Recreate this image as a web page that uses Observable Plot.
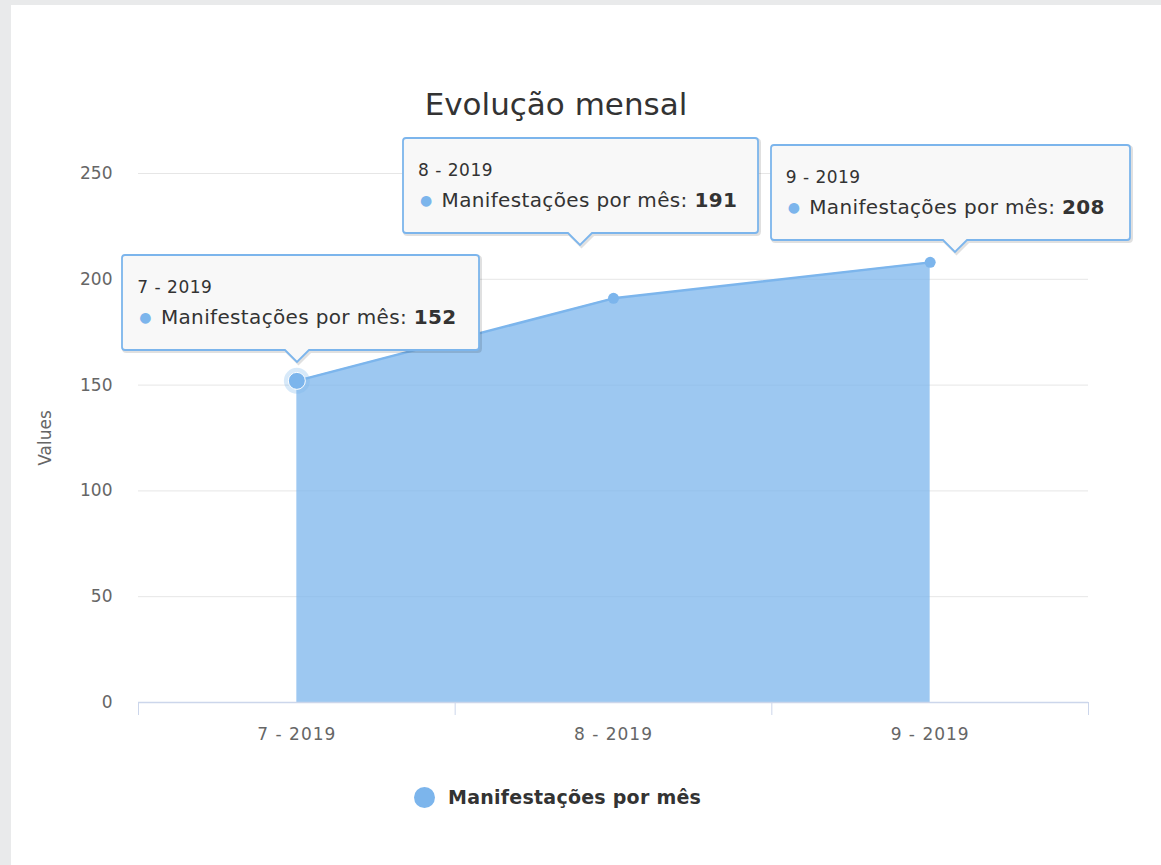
<!DOCTYPE html>
<html>
<head>
<meta charset="utf-8">
<script src="https://cdn.jsdelivr.net/npm/d3@7"></script>
<script src="https://cdn.jsdelivr.net/npm/@observablehq/plot@0.6"></script>
<style>
  html, body { margin: 0; padding: 0; }
  body { width: 1161px; height: 865px; background: #e9eaeb; position: relative; overflow: hidden; font-family: "DejaVu Sans", sans-serif; }
  #panel { position: absolute; left: 11px; top: 5px; width: 1150px; height: 860px; background: #fff; }
  #chart { position: absolute; left: 0; top: 0; }
  #chart svg g[aria-label="x-axis tick label"] text { letter-spacing: 1px; }
  #title { position: absolute; left: 0; width: 1112px; top: 86px; text-align: center; font-size: 31px; line-height: 36px; color: #333; }
  .tip { position: absolute; color: #333; }
  .tip svg { position: absolute; left: 0; top: 0; overflow: visible; }
  .tip .l1 { position: absolute; font-size: 17px; line-height: 20px; letter-spacing: 0.5px; white-space: nowrap; }
  .tip .l2 { position: absolute; font-size: 20px; line-height: 24px; letter-spacing: 0.35px; white-space: nowrap; }
  .tip .l2 .dot { color: #7cb5ec; font-size: 14px; position: relative; top: -2px; margin-right: 9px; }
  #legend { position: absolute; left: 414px; top: 786px; display: flex; align-items: center; }
  #legend .sym { width: 21px; height: 21px; border-radius: 50%; background: #7cb5ec; margin-right: 13px; }
  #legend .txt { font-size: 19px; font-weight: bold; letter-spacing: 0.25px; color: #333; white-space: nowrap; }
</style>
</head>
<body>
<div id="panel"></div>
<div id="chart"></div>
<div id="title"></div>
<div id="legend"></div>
<script>
// ---- data ----
const title = "Evolução mensal";
const seriesName = "Manifestações por mês";
const yLabel = "Values";
const months = ["7 - 2019", "8 - 2019", "9 - 2019"];
const values = [152, 191, 208];
const yTicks = [0, 50, 100, 150, 200, 250];

// ---- tooltip layout (offsets relative to each point, in pixels) ----
const tipLayout = [
  { boxDx: -174, tipDx: 1,   tipDy: -18, width: 357 },
  { boxDx: -210, tipDx: -33, tipDy: -53, width: 355 },
  { boxDx: -159, tipDx: 25,  tipDy: -10, width: 359 }
];

const data = months.map((m, i) => ({ i, month: m, value: values[i] }));
const color = "#7cb5ec";

const chart = Plot.plot({
  width: 1161,
  height: 865,
  marginLeft: 138,
  marginRight: 73,
  marginTop: 173,
  marginBottom: 163,
  style: { background: "transparent", fontFamily: "DejaVu Sans, sans-serif", fontSize: "17px", color: "#666", overflow: "visible" },
  x: { domain: [-0.5, 2.5], label: null },
  y: { domain: [0, 250], label: null },
  marks: [
    Plot.gridY(yTicks, { stroke: "#e6e6e6", strokeOpacity: 1 }),
    Plot.areaY(data, { x: "i", y: "value", fill: color, fillOpacity: 0.75 }),
    Plot.lineY(data, { x: "i", y: "value", stroke: color, strokeWidth: 2.5 }),
    Plot.ruleY([0], { stroke: "#ccd6eb", strokeWidth: 1.5 }),
    Plot.axisX([-0.5, 0.5, 1.5, 2.5], { tickSize: 13, stroke: "#ccd6eb", tickFormat: () => "", label: null }),
    Plot.axisX([0, 1, 2], { tickSize: 0, tickPadding: 25, fontSize: 17, tickFormat: i => months[i], fill: "#666", label: null }),
    Plot.axisY(yTicks, { tickSize: 0, tickPadding: 26, fill: "#666", label: yLabel, labelAnchor: "center", labelArrow: "none", labelOffset: 100 }),
    Plot.dot(data.slice(1), { x: "i", y: "value", r: 5.5, fill: color }),
    Plot.dot(data.slice(0, 1), { x: "i", y: "value", r: 13, fill: color, fillOpacity: 0.3 }),
    Plot.dot(data.slice(0, 1), { x: "i", y: "value", r: 8.5, fill: color, stroke: "#fff", strokeWidth: 1 })
  ]
});
document.getElementById("chart").appendChild(chart);
document.getElementById("title").textContent = title;
document.getElementById("legend").innerHTML = `<div class="sym"></div><div class="txt">${seriesName}</div>`;

// ---- tooltips positioned through the plot's own scales ----
const sx = chart.scale("x"), sy = chart.scale("y");
const boxH = 95, ptr = 12, r = 3;
data.forEach((d, k) => {
  const L = tipLayout[k];
  const px = sx.apply(d.i), py = sy.apply(d.value);
  const tipX = px + L.tipDx, tipY = py + L.tipDy;
  const left = px + L.boxDx, top = tipY - ptr - boxH;
  const w = L.width, h = boxH, tx = tipX - left;
  const div = document.createElement("div");
  div.className = "tip";
  div.style.left = left + "px";
  div.style.top = top + "px";
  div.style.width = w + "px";
  div.style.height = (h + ptr) + "px";
  const path = `M${r},0H${w - r}Q${w},0 ${w},${r}V${h - r}Q${w},${h} ${w - r},${h}H${tx + 12}L${tx},${h + ptr}L${tx - 12},${h}H${r}Q0,${h} 0,${h - r}V${r}Q0,0 ${r},0Z`;
  div.innerHTML = `<svg width="${w}" height="${h + ptr}">
      <path d="${path}" transform="translate(1.5,1.5)" fill="none" stroke="rgba(0,0,0,0.12)" stroke-width="3"/>
      <path d="${path}" fill="#f8f8f8" stroke="${color}" stroke-width="1.8"/></svg>
    <div class="l1" style="left:15px;top:22px">${d.month}</div>
    <div class="l2" style="left:17px;top:50px"><span class="dot">●</span>${seriesName}: <b>${d.value}</b></div>`;
  document.body.appendChild(div);
});
</script>
</body>
</html>
